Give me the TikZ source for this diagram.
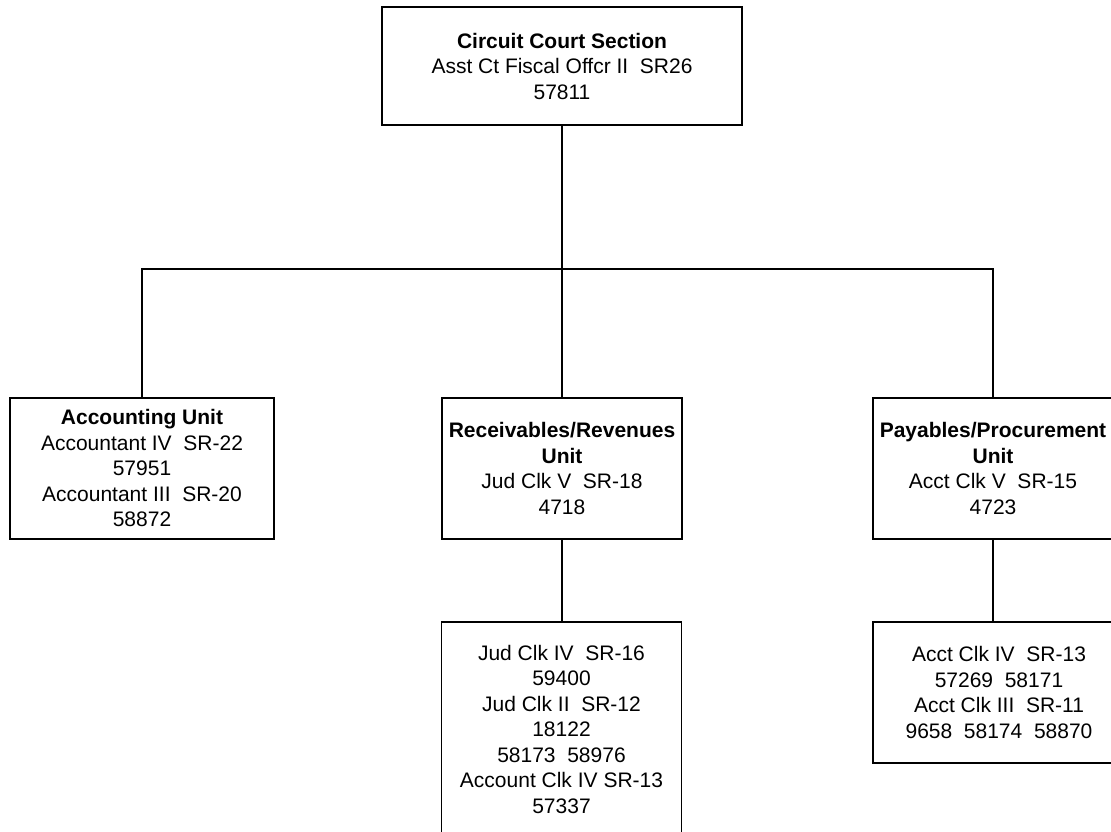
\documentclass[tikz,border=0pt]{standalone}
\usepackage{fontspec}
\setmainfont{Liberation Sans}
\begin{document}
\begin{tikzpicture}[x=1pt,y=-1pt,
  unit/.style={draw=black, line width=1.4pt, rectangle, inner sep=0pt,
    align=center, font=\fontsize{21}{25.5}\selectfont},
  unittext/.style={inner sep=0pt, align=center, font=\fontsize{21}{25.5}\selectfont},
  link/.style={line width=1.4pt}]
\useasboundingbox (0,0) rectangle (1111,832);
\clip (0,0) rectangle (1111,832);
\fill[white] (0,0) rectangle (1111,832);

% section head
\node[unit, minimum width=360pt, minimum height=118pt] (head) at (562,66)
  {\textbf{Circuit Court Section}\\Asst Ct Fiscal Offcr II\ \ SR26\\57811};

% units
\node[unit, minimum width=264pt, minimum height=141pt] (acct) at (142,468.5) {};
\node[unittext, anchor=north] (accttext) at ([yshift=-12pt]acct.north)
  {\textbf{Accounting Unit}\\Accountant IV\ \ SR-22\\57951\\Accountant III\ \ SR-20\\58872};
\node[unit, minimum width=240pt, minimum height=141pt] (recv) at (562,468.5)
  {\textbf{Receivables/Revenues}\\\textbf{Unit}\\Jud Clk V\ \ SR-18\\4718};
\node[unit, minimum width=240pt, minimum height=141pt] (pay) at (993,468.5)
  {\textbf{Payables/Procurement}\\\textbf{Unit}\\Acct Clk V\ \ SR-15\\4723};

% staff below units
\node[unit, minimum width=240pt, minimum height=214pt] (recvstaff) at (561.5,729)
  {Jud Clk IV\ \ SR-16\\59400\\Jud Clk II\ \ SR-12\\18122\\58173\ \ 58976\\Account Clk IV SR-13\\57337};
\node[unit, minimum width=252pt, minimum height=141pt] (paystaff) at (999,692.5)
  {Acct Clk IV\ \ SR-13\\57269\ \ 58171\\Acct Clk III\ \ SR-11\\9658\ \ 58174\ \ 58870};

% connectors
\coordinate (bus) at (562,269);
\draw[link] (head.south) -- (head.south |- bus);
\draw[link] (acct.north) |- (bus) -| (pay.north);
\draw[link] (recv.north) -- (recv.north |- bus);
\draw[link] (recv.south) -- (recv.south |- recvstaff.north);
\draw[link] (pay.south) -- (pay.south |- paystaff.north);
\end{tikzpicture}
\end{document}
